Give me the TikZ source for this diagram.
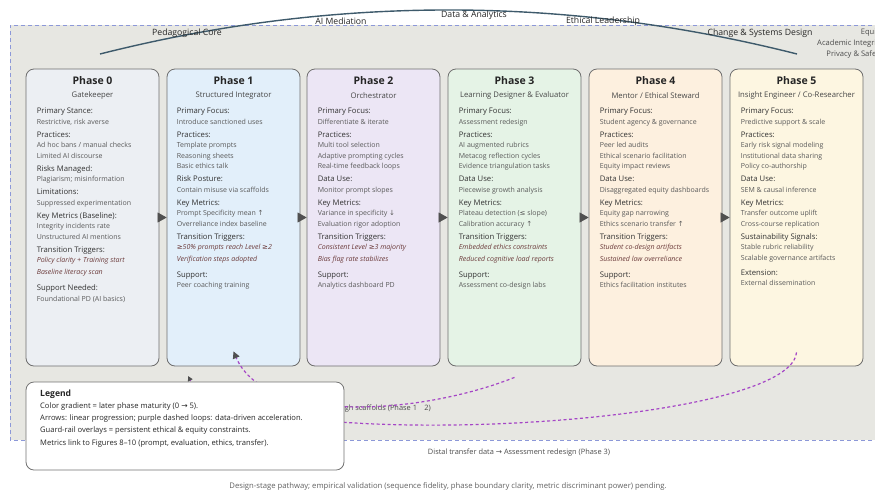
\documentclass[tikz,border=0pt]{standalone}
\usepackage{fontspec}
\setmainfont{Open Sans}
\newfontfamily\symfont{DejaVu Sans}
\usetikzlibrary{arrows.meta}

\definecolor{bgzone}{HTML}{E7E7E2}
\definecolor{zoneline}{HTML}{8C98D8}
\definecolor{boxline}{HTML}{6E6E6E}
\definecolor{ph0}{HTML}{ECEFF3}
\definecolor{ph1}{HTML}{E2EFFA}
\definecolor{ph2}{HTML}{ECE6F5}
\definecolor{ph3}{HTML}{E5F3E6}
\definecolor{ph4}{HTML}{FDF0DF}
\definecolor{ph5}{HTML}{FDF6E1}
\definecolor{labc}{HTML}{333333}
\definecolor{itemc}{HTML}{5A5A5A}
\definecolor{trigc}{HTML}{6B3A3A}
\definecolor{arcc}{HTML}{3E5A6B}
\definecolor{loopc}{HTML}{A546C6}
\definecolor{tipc}{HTML}{505050}

\newcommand\myup{{\symfont ↑}}
\newcommand\mydown{{\symfont ↓}}
\newcommand\myto{{\symfont →}}
\newcommand\mygeq{{\symfont ≥}}
\newcommand\myleq{{\symfont ≤}}
\newcommand\lab[1]{{\fontsize{7.7}{10.5}\selectfont\color{labc}#1}}
\newcommand\trig[1]{{\itshape\color{trigc}#1}}

\tikzset{
  phasebox/.style={draw=boxline, line width=0.8pt, rounded corners=8pt,
    minimum width=133pt, minimum height=297pt, inner sep=0pt},
  phasetitle/.style={font=\bfseries\fontsize{10.5}{12}\selectfont, text=black!85, inner sep=0pt},
  phasesub/.style={font=\fontsize{7.7}{9}\selectfont, text=black!72, inner sep=0pt},
  phasebody/.style={anchor=north west, align=left, inner sep=0pt,
    font=\fontsize{7}{10.5}\selectfont, text=itemc},
  steparrow/.style={draw=tipc, line width=0.6pt, -{Triangle[length=9pt,width=10pt]}},
  arclabel/.style={font=\fontsize{8.7}{10}\selectfont, text=black!85, inner sep=0pt},
  guardlabel/.style={font=\fontsize{7.6}{9}\selectfont, text=black!70, inner sep=0pt, anchor=east},
  loopline/.style={draw=loopc, line width=1.2pt, dash pattern=on 3pt off 2.5pt},
  notetext/.style={font=\fontsize{7.4}{9}\selectfont, text=black!70, inner sep=0pt},
}

\begin{document}
\begin{tikzpicture}[x=1pt,y=-1pt]
\useasboundingbox (0,0) rectangle (875,491);

% shaded zone holding the phases
\fill[bgzone] (10,25) rectangle (900,440);
\draw[zoneline, line width=0.8pt, dash pattern=on 4pt off 3pt] (900,25) -- (10,25) -- (10,440) -- (900,440);

% competency arc across the top
\coordinate (arcL) at (100,54);
\coordinate (arcR) at (797,54);
\draw[arcc, line width=1.4pt] (arcL) .. controls (332,-4.7) and (565,-4.7) .. (arcR);
\node[arclabel] (lpc) at (187,33) {Pedagogical Core};
\node[arclabel] (lai) at (341,21) {AI Mediation};
\node[arclabel] (lda) at (474,15) {Data \& Analytics};
\node[arclabel] (lel) at (603,21) {Ethical Leadership};
\node[arclabel] (lcs) at (760,33) {Change \& Systems Design};

% guard-rail overlays, running past the right edge
\node[guardlabel] (g1) at (883,33) {Equity};
\node[guardlabel] (g2) at (883,44) {Academic Integrity};
\node[guardlabel] (g3) at (883,55) {Privacy \& Safety};

% phase cards
\node[phasebox, fill=ph0] (p0) at (92.5,217.5) {};
\node[phasebox, fill=ph1] (p1) at (233.5,217.5) {};
\node[phasebox, fill=ph2] (p2) at (373.5,217.5) {};
\node[phasebox, fill=ph3] (p3) at (514.5,217.5) {};
\node[phasebox, fill=ph4] (p4) at (655.5,217.5) {};
\node[phasebox, fill=ph5] (p5) at (796.5,217.5) {};

\foreach \p/\t/\s in {p0/{Phase 0}/{Gatekeeper}, p1/{Phase 1}/{Structured Integrator},
  p2/{Phase 2}/{Orchestrator}, p3/{Phase 3}/{Learning Designer \& Evaluator},
  p4/{Phase 4}/{Mentor / Ethical Steward}, p5/{Phase 5}/{Insight Engineer / Co-Researcher}}{
  \node[phasetitle] (\p-title) at ([yshift=-11.5pt]\p.north) {\t};
  \node[phasesub] (\p-sub) at ([yshift=-27pt]\p.north) {\s};
}

\node[phasebody] (p0-body) at ([xshift=11pt,yshift=-39.5pt]p0.north west) {%
\lab{Primary Stance:}\\
Restrictive, risk averse\\[2.5pt]
\lab{Practices:}\\
Ad hoc bans / manual checks\\
Limited AI discourse\\[2.5pt]
\lab{Risks Managed:}\\
Plagiarism; misinformation\\[2.5pt]
\lab{Limitations:}\\
Suppressed experimentation\\[2.5pt]
\lab{Key Metrics (Baseline):}\\
Integrity incidents rate\\
Unstructured AI mentions\\[2.5pt]
\lab{Transition Triggers:}\\
\trig{Policy clarity + Training start}\\[1.5pt]
\trig{Baseline literacy scan}\\[5.5pt]
\lab{Support Needed:}\\
Foundational PD (AI basics)};

\node[phasebody] (p1-body) at ([xshift=10pt,yshift=-39.5pt]p1.north west) {%
\lab{Primary Focus:}\\
Introduce sanctioned uses\\[2.5pt]
\lab{Practices:}\\
Template prompts\\
Reasoning sheets\\
Basic ethics talk\\[2.5pt]
\lab{Risk Posture:}\\
Contain misuse via scaffolds\\[2.5pt]
\lab{Key Metrics:}\\
Prompt Specificity mean \myup\\
Overreliance index baseline\\[2.5pt]
\lab{Transition Triggers:}\\
\trig{\mygeq50\% prompts reach Level \mygeq2}\\[1.5pt]
\trig{Verification steps adopted}\\[5pt]
\lab{Support:}\\
Peer coaching training};

\node[phasebody] (p2-body) at ([xshift=11pt,yshift=-39.5pt]p2.north west) {%
\lab{Primary Focus:}\\
Differentiate \& iterate\\[2.5pt]
\lab{Practices:}\\
Multi tool selection\\
Adaptive prompting cycles\\
Real-time feedback loops\\[2.5pt]
\lab{Data Use:}\\
Monitor prompt slopes\\[2.5pt]
\lab{Key Metrics:}\\
Variance in specificity \mydown\\
Evaluation rigor adoption\\[2.5pt]
\lab{Transition Triggers:}\\
\trig{Consistent Level \mygeq3 majority}\\[1.5pt]
\trig{Bias flag rate stabilizes}\\[5pt]
\lab{Support:}\\
Analytics dashboard PD};

\node[phasebody] (p3-body) at ([xshift=11pt,yshift=-39.5pt]p3.north west) {%
\lab{Primary Focus:}\\
Assessment redesign\\[2.5pt]
\lab{Practices:}\\
AI augmented rubrics\\
Metacog reflection cycles\\
Evidence triangulation tasks\\[2.5pt]
\lab{Data Use:}\\
Piecewise growth analysis\\[2.5pt]
\lab{Key Metrics:}\\
Plateau detection (\myleq\ slope)\\
Calibration accuracy \myup\\[2.5pt]
\lab{Transition Triggers:}\\
\trig{Embedded ethics constraints}\\[1.5pt]
\trig{Reduced cognitive load reports}\\[5pt]
\lab{Support:}\\
Assessment co-design labs};

\node[phasebody] (p4-body) at ([xshift=11pt,yshift=-39.5pt]p4.north west) {%
\lab{Primary Focus:}\\
Student agency \& governance\\[2.5pt]
\lab{Practices:}\\
Peer led audits\\
Ethical scenario facilitation\\
Equity impact reviews\\[2.5pt]
\lab{Data Use:}\\
Disaggregated equity dashboards\\[2.5pt]
\lab{Key Metrics:}\\
Equity gap narrowing\\
Ethics scenario transfer \myup\\[2.5pt]
\lab{Transition Triggers:}\\
\trig{Student co-design artifacts}\\[1.5pt]
\trig{Sustained low overreliance}\\[5pt]
\lab{Support:}\\
Ethics facilitation institutes};

\node[phasebody] (p5-body) at ([xshift=11pt,yshift=-39.5pt]p5.north west) {%
\lab{Primary Focus:}\\
Predictive support \& scale\\[2.5pt]
\lab{Practices:}\\
Early risk signal modeling\\
Institutional data sharing\\
Policy co-authorship\\[2.5pt]
\lab{Data Use:}\\
SEM \& causal inference\\[2.5pt]
\lab{Key Metrics:}\\
Transfer outcome uplift\\
Cross-course replication\\[2.5pt]
\lab{Sustainability Signals:}\\
Stable rubric reliability\\
Scalable governance artifacts\\[4.5pt]
\lab{Extension:}\\
External dissemination};

% linear progression
\draw[steparrow] (p0.east) -- (p1.west);
\draw[steparrow] (p1.east) -- (p2.west);
\draw[steparrow] (p2.east) -- (p3.west);
\draw[steparrow] (p3.east) -- (p4.west);
\draw[steparrow] (p4.east) -- (p5.west);

% data-driven acceleration loops
\coordinate (a3) at ([yshift=-11pt]p3.south);
\coordinate (a1) at ([yshift=15pt]p1.south);
\coordinate (b5) at ([yshift=14pt]p5.south);
\coordinate (b0) at (188,376);
\node[notetext, anchor=east] (loopnote) at (431,409) {Iterate through scaffolds (Phase 1\quad 2)};
\draw[loopline, -{Triangle[length=7pt,width=7pt,color=tipc,fill=tipc]}]
  (a3) .. controls (420,415) and (265,425) .. (a1);
\draw[loopline, -{Triangle[length=5pt,width=5pt,color=tipc,fill=tipc]}]
  (b5) .. controls (790,430) and (230,455) .. (b0);

% legend
\node[draw=black!55, line width=0.8pt, fill=white, rounded corners=8pt,
  minimum width=318pt, minimum height=88pt, inner sep=0pt] (legend) at (185,426) {};
\node[anchor=north west, align=left, inner sep=0pt, text=black!85,
  font=\fontsize{7.6}{12.2}\selectfont] (legend-text) at (40,389.5)
  {{\bfseries\fontsize{8.6}{12}\selectfont Legend}\\
   Color gradient = later phase maturity (0 \myto\ 5).\\
   Arrows: linear progression; purple dashed loops: data-driven acceleration.\\
   Guard-rail overlays = persistent ethical \& equity constraints.\\
   Metrics link to Figures 8--10 (prompt, evaluation, ethics, transfer).};

% notes below the zone
\node[notetext] (distal) at (519,453) {Distal transfer data \myto\ Assessment redesign (Phase 3)};
\node[notetext, text=black!62, font=\fontsize{7.7}{9}\selectfont] (footer) at (448,486)
  {Design-stage pathway; empirical validation (sequence fidelity, phase boundary clarity, metric discriminant power) pending.};
\end{tikzpicture}
\end{document}
